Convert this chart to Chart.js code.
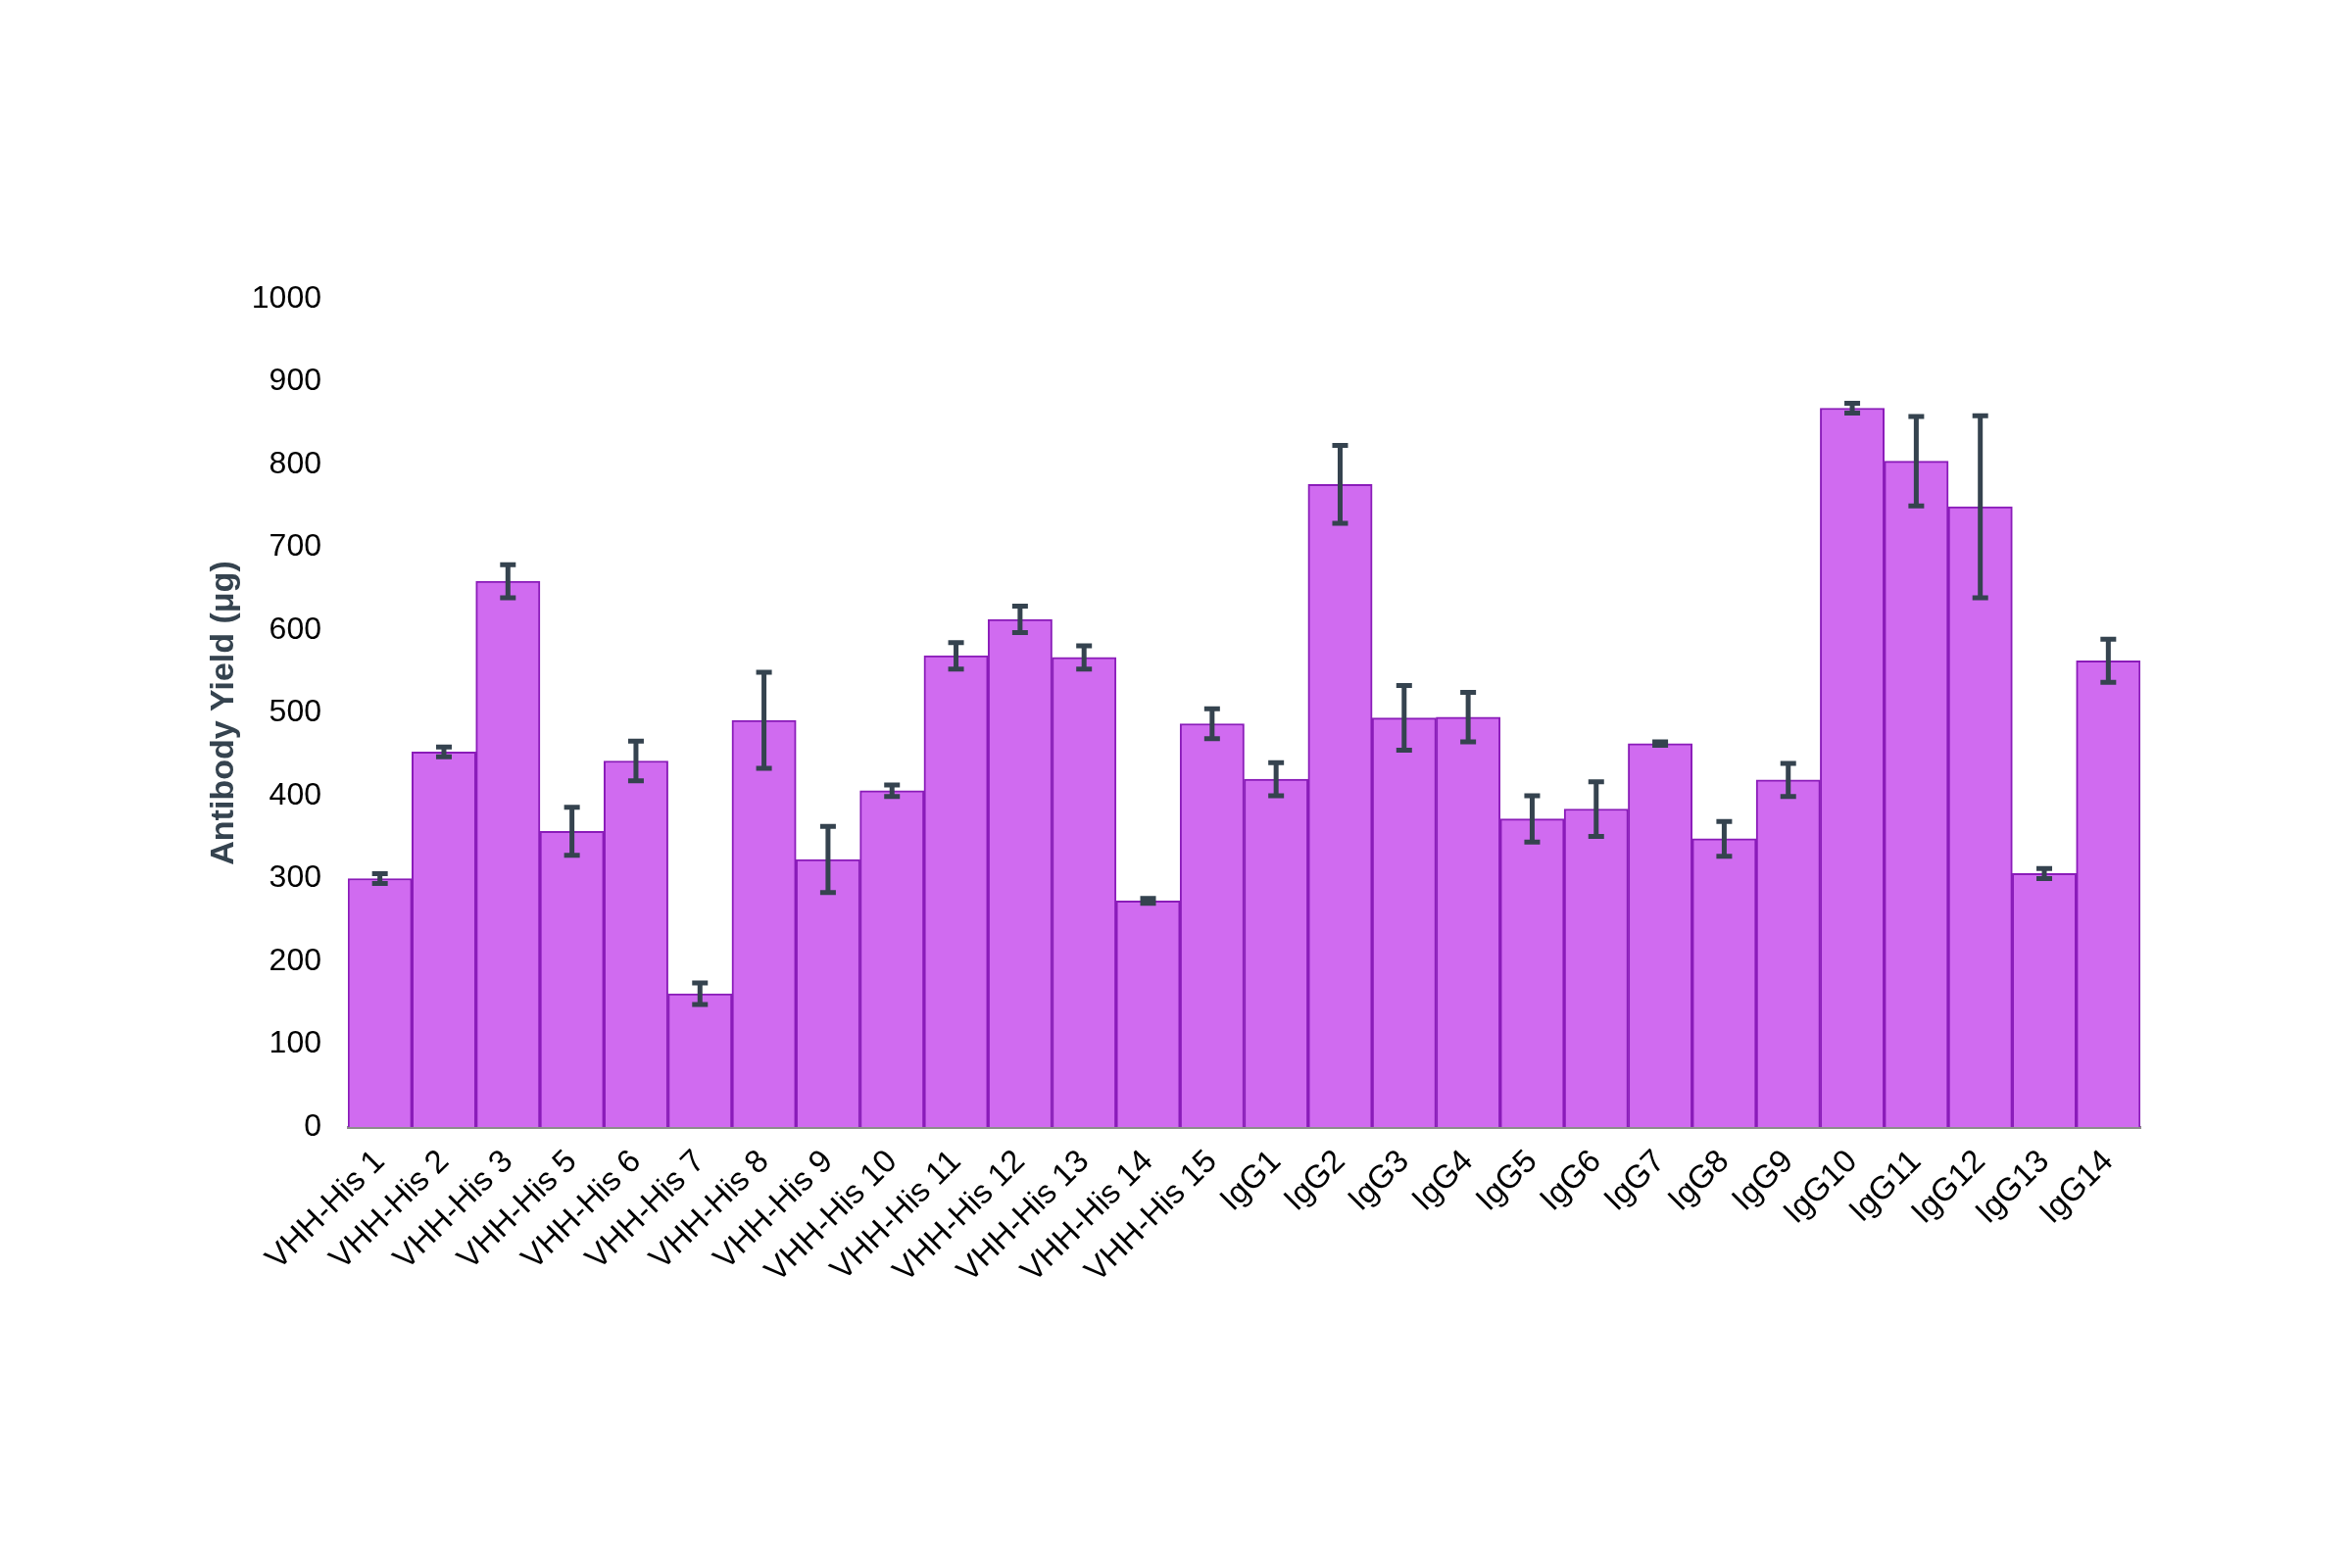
<!DOCTYPE html>
<html>
<head>
<meta charset="utf-8">
<script src="https://cdn.jsdelivr.net/npm/chart.js@4/dist/chart.umd.min.js"></script>
<style>
  html, body { margin: 0; padding: 0; background: #ffffff; }
  #wrap { width: 2400px; height: 1600px; }
</style>
</head>
<body>
<div id="wrap"><canvas id="c" width="2400" height="1600"></canvas></div>
<script>
const categories = [
  "VHH-His 1", "VHH-His 2", "VHH-His 3", "VHH-His 5", "VHH-His 6", "VHH-His 7",
  "VHH-His 8", "VHH-His 9", "VHH-His 10", "VHH-His 11", "VHH-His 12", "VHH-His 13",
  "VHH-His 14", "VHH-His 15",
  "IgG1", "IgG2", "IgG3", "IgG4", "IgG5", "IgG6", "IgG7", "IgG8", "IgG9",
  "IgG10", "IgG11", "IgG12", "IgG13", "IgG14"
];
const yieldValues = [
  300, 453, 659, 357, 442, 161, 491, 323, 406, 569, 613, 567, 273, 487,
  420, 776, 494, 495, 372, 384, 463, 348, 419, 868, 804, 749, 306, 563
];
const yieldErrors = [
  6, 6, 20, 29, 24, 13, 58, 40, 7, 16, 16, 14, 3, 18,
  20, 47, 39, 30, 28, 33, 2, 21, 20, 6, 54, 110, 6, 26
];
const yTicks = [0, 100, 200, 300, 400, 500, 600, 700, 800, 900, 1000];

const FONT = "'Liberation Sans', Arial, Helvetica, sans-serif";

const errorBarPlugin = {
  id: 'errorBars',
  afterDatasetsDraw(chart) {
    const meta = chart.getDatasetMeta(0);
    const yScale = chart.scales.y;
    const ctx = chart.ctx;
    ctx.save();
    ctx.strokeStyle = '#35434f';
    ctx.lineWidth = 5;
    ctx.lineCap = 'butt';
    meta.data.forEach((bar, i) => {
      const v = yieldValues[i], e = yieldErrors[i];
      const x = bar.x;
      const yTop = yScale.getPixelForValue(v + e);
      const yBot = yScale.getPixelForValue(v - e);
      const half = 8;
      ctx.beginPath();
      ctx.moveTo(x, yTop);
      ctx.lineTo(x, yBot);
      ctx.moveTo(x - half, yTop);
      ctx.lineTo(x + half, yTop);
      ctx.moveTo(x - half, yBot);
      ctx.lineTo(x + half, yBot);
      ctx.stroke();
    });
    ctx.restore();
  }
};

new Chart(document.getElementById('c'), {
  type: 'bar',
  data: {
    labels: categories,
    datasets: [{
      data: yieldValues,
      backgroundColor: '#d06bf0',
      borderColor: '#8a1cb9',
      borderWidth: 2,
      barPercentage: 1.0,
      categoryPercentage: 1.0
    }]
  },
  options: {
    responsive: false,
    animation: false,
    devicePixelRatio: 1,
    layout: { padding: { left: 200, right: 216, top: 305, bottom: 150 } },
    plugins: {
      legend: { display: false },
      tooltip: { enabled: false },
      title: { display: false }
    },
    scales: {
      x: {
        grid: { display: false, drawTicks: false },
        border: { display: true, color: '#8c8c8c', width: 3 },
        ticks: {
          autoSkip: false,
          minRotation: 45,
          maxRotation: 45,
          padding: 16,
          color: '#000000',
          font: { family: FONT, size: 33 }
        },
        afterFit(scale) { scale.height = 300; }
      },
      y: {
        min: 0,
        max: 1000,
        afterBuildTicks(scale) { scale.ticks = yTicks.map(v => ({ value: v })); },
        grid: { display: false, drawTicks: false },
        border: { display: false },
        ticks: {
          padding: 27,
          color: '#000000',
          font: { family: FONT, size: 32 },
          callback: (v) => String(v)
        },
        title: {
          display: true,
          text: 'Antibody Yield (μg)',
          color: '#35434f',
          padding: { top: 8, bottom: 0 },
          font: { family: FONT, size: 34, weight: 'bold' }
        },
        afterFit(scale) { scale.width = 155; }
      }
    }
  },
  plugins: [errorBarPlugin]
});
</script>
</body>
</html>
